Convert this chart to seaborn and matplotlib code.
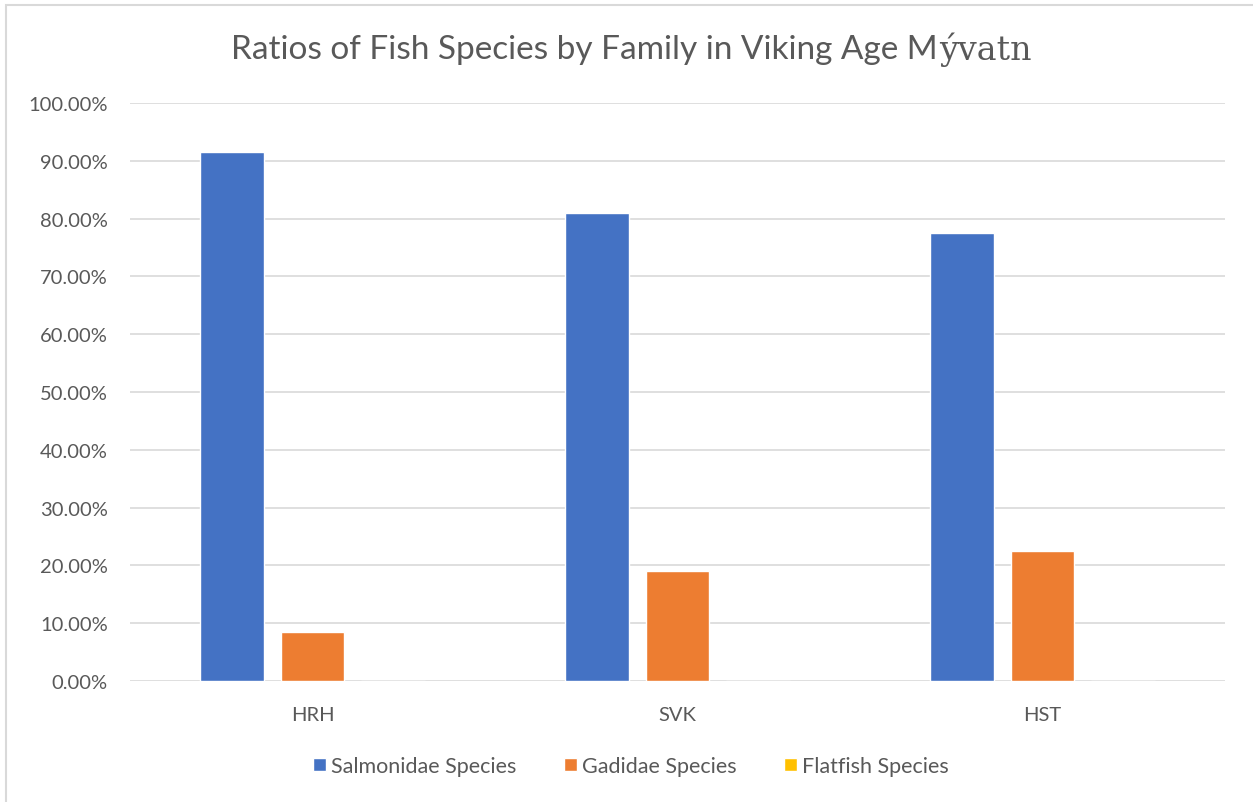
import matplotlib
matplotlib.use("Agg")
import matplotlib.pyplot as plt
from matplotlib.patches import Rectangle
import seaborn as sns
import pandas as pd

# Zooarchaeological fish bone ratios per site
sites = ["HRH", "SVK", "HST"]
families = ["Salmonidae Species", "Gadidae Species", "Flatfish Species"]
salmonidae = [0.916, 0.809, 0.775]
gadidae = [0.084, 0.191, 0.225]
flatfish = [0.0, 0.0, 0.0]
y_ticks = [0.0, 0.1, 0.2, 0.3, 0.4, 0.5, 0.6, 0.7, 0.8, 0.9, 1.0]

colors = ["#4472C4", "#ED7D31", "#FFC000"]
text_color = "#595959"
grid_color = "#D9D9D9"

rows = []
for fam, vals in zip(families, [salmonidae, gadidae, flatfish]):
    for site, v in zip(sites, vals):
        rows.append({"Site": site, "Family": fam, "Ratio": v})
df = pd.DataFrame(rows)

sns.set_theme(style="white")
plt.rcParams["font.family"] = ["Lato", "DejaVu Sans"]

fig = plt.figure(figsize=(12.53, 8.03), dpi=100)
ax = fig.add_axes([130 / 1253, 1 - 682 / 803, (1225 - 130) / 1253, (682 - 104) / 803])

sns.barplot(data=df, x="Site", y="Ratio", hue="Family", order=sites,
            hue_order=families, palette=colors, width=0.665, gap=0.21,
            saturation=1, ax=ax, legend=False, errorbar=None)

ax.set_ylim(0, 1.0)
ax.set_yticks(y_ticks)
ax.set_yticklabels([f"{t * 100:.2f}%" for t in y_ticks])
ax.set_xlim(-0.5, 2.5)
ax.grid(axis="y", color=grid_color, linewidth=1.2)
ax.set_axisbelow(True)
for s in ax.spines.values():
    s.set_visible(False)
ax.set_xlabel("")
ax.set_ylabel("")
ax.tick_params(axis="both", length=0, labelsize=14.5, labelcolor=text_color)
ax.tick_params(axis="y", pad=16)
ax.tick_params(axis="x", pad=18)

# Chart frame
fig.patches.append(Rectangle((6 / 1253, -0.05), 1.2, 1 - 6 / 803 + 0.05,
                             transform=fig.transFigure, fill=False,
                             edgecolor="#D9D9D9", linewidth=1.5))

# Title: place name set in a serif face for the accented part
t1 = fig.text(0, 1 - 50 / 803, "Ratios of Fish Species by Family in Viking Age M",
              fontsize=24, color=text_color, va="center", ha="left")
t2 = fig.text(0, 1 - 50 / 803, "ývatn", fontsize=24, color=text_color,
              va="center", ha="left", family=["DejaVu Serif"])
fig.canvas.draw()
r = fig.canvas.get_renderer()
w1 = t1.get_window_extent(r).width
w2 = t2.get_window_extent(r).width
start = 631 - (w1 + w2) / 2
t1.set_x(start / 1253)
t2.set_x((start + w1 + 1) / 1253)

# Legend
handles = [Rectangle((0, 0), 1, 1, facecolor=c) for c in colors]
fig.legend(handles, families, loc="center", bbox_to_anchor=(631 / 1253, 1 - 767 / 803),
           ncol=3, frameon=False, fontsize=15.5, labelcolor=text_color,
           handlelength=0.6, handleheight=0.6, handletextpad=0.25, columnspacing=2.2)

fig.savefig("out.png", dpi=100, facecolor="white")
